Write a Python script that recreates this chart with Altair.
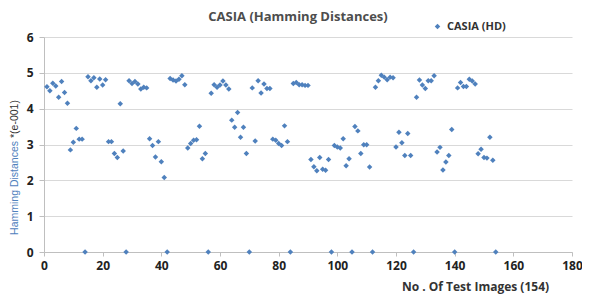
import altair as alt
import pandas as pd

x_ticks = [0, 20, 40, 60, 80, 100, 120, 140, 160, 180]
y_ticks = [0, 1, 2, 3, 4, 5, 6]
series_name = "CASIA (HD)"
chart_title = "CASIA (Hamming Distances)"

hd_1_50 = [4.61, 4.50, 4.71, 4.63, 4.32, 4.76, 4.45, 4.15, 2.85, 3.06,
           3.45, 3.15, 3.15, 0, 4.89, 4.78, 4.86, 4.60, 4.83, 4.66,
           4.81, 3.08, 3.08, 2.75, 2.64, 4.14, 2.82, 0, 4.78, 4.70,
           4.76, 4.69, 4.55, 4.60, 4.58, 3.16, 2.97, 2.65, 3.08, 2.52,
           2.08, 0, 4.84, 4.80, 4.77, 4.82, 4.92, 4.67, 2.90, 3.03]
hd_51_100 = [3.12, 3.13, 3.51, 2.60, 2.75, 0, 4.43, 4.67, 4.60, 4.66,
             4.77, 4.66, 4.55, 3.68, 3.48, 3.89, 3.20, 3.48, 2.75, 0,
             4.58, 3.10, 4.78, 4.44, 4.69, 4.56, 4.56, 3.15, 3.12, 3.03,
             2.97, 3.52, 3.08, 0, 4.70, 4.73, 4.67, 4.67, 4.65, 4.65,
             2.58, 2.38, 2.27, 2.64, 2.31, 2.28, 2.58, 0, 2.97, 2.93]
hd_101_154 = [2.90, 3.16, 2.41, 2.60, 0, 3.50, 3.38, 2.75, 2.99, 2.99,
              2.37, 0, 4.60, 4.78, 4.93, 4.88, 4.81, 4.88, 4.86, 2.93,
              3.34, 3.05, 2.69, 3.31, 2.69, 0, 4.32, 4.80, 4.66, 4.56,
              4.78, 4.78, 4.92, 2.79, 2.92, 2.29, 2.51, 2.69, 3.42, 0,
              4.58, 4.73, 4.62, 4.62, 4.82, 4.77, 4.69, 2.74, 2.87, 2.64,
              2.62, 3.20, 2.56, 0]

hd = hd_1_50 + hd_51_100 + hd_101_154
images = list(range(1, len(hd) + 1))
df = pd.DataFrame({"image": images, "hd": hd, "series": [series_name] * len(hd)})

FONT = "Open Sans"
BLUE = "#4F81BD"

points = alt.Chart(df).mark_point(shape="diamond", filled=True, size=30, opacity=1).encode(
    x=alt.X("image:Q",
            scale=alt.Scale(domain=[0, 180], nice=False),
            axis=alt.Axis(values=x_ticks, grid=False, title="No . Of Test Images (154)",
                          titleX=431, titleY=34, titleAlign="center", titleBaseline="middle",
                          titleFont=FONT, titleFontSize=12, titleFontWeight="bold", titleColor="#333333",
                          labelFont=FONT, labelFontSize=12, labelFontWeight="bold", labelColor="#222222",
                          labelPadding=4, tickSize=4, tickColor="#bfbfbf", domainColor="#bfbfbf",
                          labelFlush=False)),
    y=alt.Y("hd:Q",
            scale=alt.Scale(domain=[0, 6], nice=False),
            axis=alt.Axis(values=y_ticks, title=None, grid=True, gridColor="#d9d9d9",
                          labelFont=FONT, labelFontSize=12, labelFontWeight="bold", labelColor="#222222",
                          labelPadding=6, tickSize=5, tickColor="#bfbfbf", domainColor="#bfbfbf")),
    color=alt.Color("series:N", scale=alt.Scale(range=[BLUE]),
                    legend=alt.Legend(title=None, orient="none", legendX=388, legendY=-16,
                                      symbolType="diamond", symbolSize=30, labelFont=FONT,
                                      labelFontSize=11, labelFontWeight="bold", labelColor="#333333")),
)

title_text = alt.Chart(pd.DataFrame({"label": [chart_title]})).mark_text(
    align="center", baseline="middle", font=FONT, fontSize=13, fontWeight="bold", color="#4d4d4d"
).encode(text="label:N", x=alt.value(254), y=alt.value(-20))

ytitle_a = alt.Chart(pd.DataFrame({"label": ["Hamming Distances"]})).mark_text(
    angle=270, align="right", baseline="middle", font="Liberation Sans",
    fontSize=10.5, color=BLUE
).encode(text="label:N", x=alt.value(-29), y=alt.value(104))

ytitle_b = alt.Chart(pd.DataFrame({"label": ["*(e-001)"]})).mark_text(
    angle=270, align="left", baseline="middle", font="Liberation Sans",
    fontSize=10.5, color="#333333"
).encode(text="label:N", x=alt.value(-29), y=alt.value(101))

chart = alt.layer(points, title_text, ytitle_a, ytitle_b).properties(
    width=528, height=215,
    autosize=alt.AutoSizeParams(type="none"),
    padding={"left": 36, "top": 29, "right": 10, "bottom": 44},
).configure_view(stroke=None)

chart.save("out.html", embed_options={"renderer": "svg", "actions": False})
